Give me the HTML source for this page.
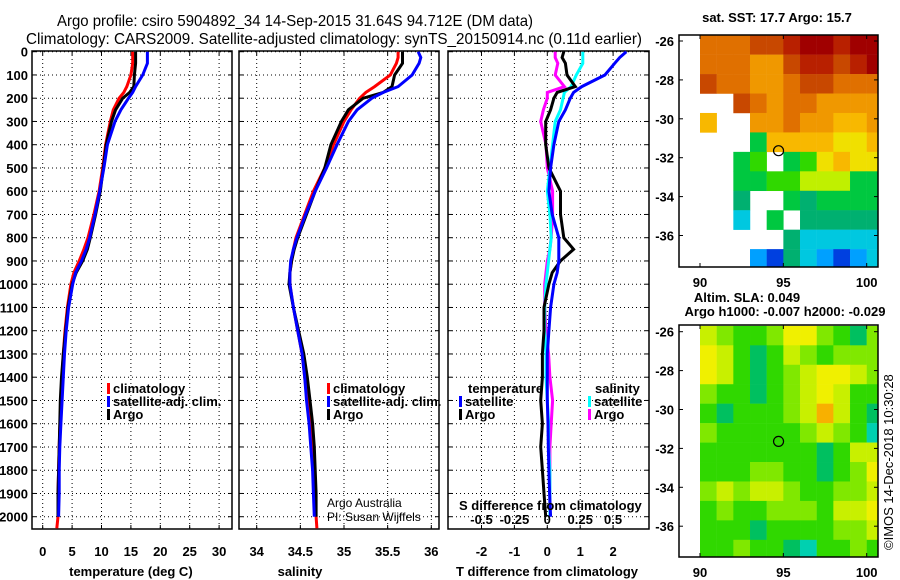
<!DOCTYPE html>
<html><head><meta charset="utf-8"><style>
html,body{margin:0;padding:0;background:#fff;}
svg{display:block;font-family:"Liberation Sans",sans-serif;}
.tk{font-size:13px;font-weight:bold;}
</style></head><body>
<svg id="fig" width="900" height="580" viewBox="0 0 900 580" xmlns="http://www.w3.org/2000/svg">
<text x="57" y="26" font-size="16" textLength="476" lengthAdjust="spacingAndGlyphs">Argo profile: csiro 5904892_34 14-Sep-2015 31.64S 94.712E (DM data)</text>
<text x="26" y="44" font-size="16" textLength="616" lengthAdjust="spacingAndGlyphs">Climatology: CARS2009. Satellite-adjusted climatology: synTS_20150914.nc (0.11d earlier)</text>
<g id="plots"></g>
<text x="777" y="22" font-size="13" font-weight="bold" text-anchor="middle">sat. SST: 17.7 Argo: 15.7</text>
<text x="747" y="302" font-size="13" font-weight="bold" text-anchor="middle">Altim. SLA: 0.049</text>
<text x="785" y="316" font-size="13" font-weight="bold" text-anchor="middle">Argo h1000: -0.007 h2000: -0.029</text>
<text transform="translate(893,550) rotate(-90)" font-size="13">©IMOS 14-Dec-2018 10:30:28</text>
</svg>
<script>
// ---- profile data ----
const depths=[0,25,50,100,150,175,200,250,300,400,500,600,700,800,850,900,950,1000,1100,1200,1300,1400,1500,1600,1700,1800,1900,2000,2050];
const tempClim=[15.3,15.3,15.3,15.0,14.3,13.8,13.0,12.0,11.5,10.7,10.2,9.6,8.7,7.7,7.0,6.2,5.3,4.8,4.2,3.8,3.5,3.3,3.1,2.95,2.8,2.7,2.6,2.6,2.4];
const tempArgo=[15.8,15.8,15.8,15.6,15.5,14.8,13.6,12.4,11.7,10.8,10.3,9.8,9.0,8.1,7.6,6.8,5.7,5.0,4.3,3.9,3.5,3.2,3.0,2.9,2.8,2.7,2.6,2.6,null];
const tempSat=[17.8,17.8,17.8,17.0,15.8,15.3,14.6,13.3,12.3,11.0,10.4,9.7,8.9,8.0,7.4,6.6,5.6,5.1,4.4,4.0,3.7,3.5,3.3,3.1,2.9,2.8,2.8,2.7,null];
const salClim=[35.62,35.62,35.60,35.53,35.35,35.25,35.18,35.08,35.0,34.88,34.78,34.65,34.55,34.45,34.42,34.40,34.38,34.38,34.42,34.47,34.52,34.55,34.58,34.62,34.64,34.65,34.67,34.68,34.69];
const salArgo=[35.67,35.67,35.67,35.58,35.55,35.45,35.22,35.05,34.97,34.85,34.78,34.67,34.57,34.47,34.43,34.40,34.38,34.37,34.42,34.48,34.54,34.58,34.61,34.64,34.66,34.67,34.68,34.68,null];
const salSat=[35.85,35.88,35.86,35.78,35.62,35.45,35.32,35.15,35.05,34.92,34.80,34.67,34.56,34.46,34.42,34.39,34.38,34.38,34.42,34.47,34.52,34.55,34.57,34.60,34.62,34.64,34.65,34.66,null];
const tDiffSat=[2.4,2.2,2.05,1.75,1.05,0.8,0.7,0.55,0.35,0.2,0.1,0.05,0.15,0.35,0.35,0.35,0.3,0.2,0.1,0.05,0.0,0.0,0.0,0.02,0.03,0.05,0.07,0.1,null];
const tDiffArgo=[0.5,0.45,0.55,0.6,0.85,0.3,0.2,0.1,-0.05,-0.05,0.05,0.4,0.4,0.5,0.8,0.4,0.15,0.05,-0.1,-0.1,-0.15,-0.15,-0.2,-0.15,-0.2,-0.15,-0.1,-0.05,null];
const sDiffSat=[0.27,0.27,0.27,0.22,0.18,0.13,0.12,0.1,0.06,0.04,0.02,0.0,0.02,0.03,0.02,0.01,0.0,-0.01,-0.02,-0.02,-0.01,-0.01,0.0,0.01,0.01,0.02,0.02,0.02,null];
const sDiffArgo=[0.06,0.06,0.08,0.06,0.13,0.0,0.0,-0.03,-0.05,-0.01,0.0,0.04,0.04,0.03,0.02,0.0,-0.01,-0.02,-0.02,-0.01,0.01,0.02,0.04,0.03,0.02,0.02,0.02,0.02,null];
const depthTicks=[0,100,200,300,400,500,600,700,800,900,1000,1100,1200,1300,1400,1500,1600,1700,1800,1900,2000];
const tempTicks=[0,5,10,15,20,25,30];
const salTicks=[34,34.5,35,35.5,36];
const tDiffTicks=[-2,-1,0,1,2];
const sDiffTicks=[-0.5,-0.25,0,0.25,0.5];
// ---- map data (1-degree cells, lon 90..100, rows from -25.7 downward) ----
const mapLons=[90,91,92,93,94,95,96,97,98,99,100];
const sstRows=[
[19.5,19.5,19.5,20,20,20.5,21,21,20.5,21,21],
[19.5,19.5,19.5,19,19,20,20.5,20.5,20,20.5,21],
[20,19.5,19.5,19,19,19.5,20,20,19.5,19.5,19.5],
[null,null,20,19.5,19,19.5,19.5,19,19,19,19],
[18.5,null,null,19,19,19.5,19,19,18.5,18.5,19],
[null,null,null,16.5,18.5,18.5,18.5,18.5,18,18,18.5],
[null,null,16.5,17,null,16.5,17,18,18.5,18,18],
[null,null,16.5,16.5,17,17,17.5,17.5,17.5,16.5,16.5],
[null,null,16,null,null,16.5,16,16.5,16.5,16.5,16.5],
[null,null,15.5,null,16.5,null,16,16,16,16,16],
[null,null,null,null,null,16,15.5,15.5,15.5,15.5,15.5],
[null,null,null,15,14.5,16,15.5,15,14.5,15,15.5]];
const slaRows=[
[4,3,2,2,3,5,5,3,2,1,3],
[5,4,2,1,2,4,3,2,3,3,3],
[5,4,2,1,2,3,4,5,5,4,3],
[3,2,2,1,2,3,4,5,4,2,2],
[2,1,2,2,2,3,4,6,4,2,1],
[3,2,2,2,2,2,3,4,3,2,0],
[2,2,2,2,2,2,2,1,2,4,4],
[2,2,2,3,3,2,2,1,2,3,5],
[3,4,3,4,4,3,2,2,3,3,4],
[2,3,2,2,3,3,3,2,4,4,5],
[2,2,2,1,2,2,2,2,3,3,4],
[2,2,3,2,2,1,0,2,2,3,2]];
const latTicks=[-26,-28,-30,-32,-34,-36];
const lonTicks=[90,95,100];
const argoLon=94.712, argoLat=-31.64;

const NS='http://www.w3.org/2000/svg';
const root=document.getElementById('plots');
function mk(tag,attrs,parent){const e=document.createElementNS(NS,tag);for(const k in attrs)e.setAttribute(k,attrs[k]);(parent||root).appendChild(e);return e;}
function txt(x,y,s,attrs,parent){const e=mk('text',Object.assign({x:x,y:y},attrs||{}),parent);e.textContent=s;return e;}

const Y0=51.7,YTOP=51,YBOT=529,PX_PER_M=465/2000;
const yD=d=>Y0+d*PX_PER_M;
const panels=[
 {x0:32,x1:232,name:'temperature-panel',sx:v=>42.7+v*5.88,ticks:tempTicks,title:'temperature (deg C)',tx:42.7+15*5.88},
 {x0:239,x1:439,name:'salinity-panel',sx:v=>256.7+(v-34)*87.3,ticks:salTicks,title:'salinity',tx:300},
 {x0:448,x1:649,name:'difference-panel',sx:v=>547.3+v*32.9,ticks:tDiffTicks,title:'T difference from climatology',tx:547}
];
const sxS=v=>547.3+v*131.6;

panels.forEach((p,pi)=>{
 const g=mk('g',{});
 
 
 depthTicks.forEach(d=>{const l=mk('line',{x1:p.x0,x2:p.x1,y1:yD(d),y2:yD(d),stroke:'#000','stroke-width':1,'stroke-dasharray':'1,3'},g);
  
  mk('line',{x1:p.x0,x2:p.x0+4,y1:yD(d),y2:yD(d),stroke:'#000'},g);mk('line',{x1:p.x1-4,x2:p.x1,y1:yD(d),y2:yD(d),stroke:'#000'},g);});
 p.ticks.forEach(t=>{const x=p.sx(t);const l=mk('line',{x1:x,x2:x,y1:YTOP,y2:YBOT,stroke:'#000','stroke-width':1,'stroke-dasharray':'1,3'},g);
  
  mk('line',{x1:x,x2:x,y1:YBOT-4,y2:YBOT,stroke:'#000'},g);mk('line',{x1:x,x2:x,y1:YTOP,y2:YTOP+4,stroke:'#000'},g);
  const tl=txt(x,556,String(t),{class:'tk','text-anchor':'middle'},g);
  });
 const fr=mk('rect',{x:p.x0,y:YTOP,width:p.x1-p.x0,height:YBOT-YTOP,fill:'none',stroke:'#000','stroke-width':1.5},g);
 
 const at=txt(p.tx,576,p.title,{class:'tk','text-anchor':'middle'},g);
 
});
depthTicks.forEach(d=>{const t=txt(28,yD(d)+5,String(d),{class:'tk','text-anchor':'end'});
 });

function line(vals,sx,color,name){
 let pts=[];vals.forEach((v,i)=>{if(v!==null&&v!==undefined)pts.push(sx(v).toFixed(1)+','+yD(depths[i]).toFixed(1));});
 const e=mk('polyline',{points:pts.join(' '),fill:'none',stroke:color,'stroke-width':3,'stroke-linejoin':'miter'});
 
 
}
const sxT=panels[0].sx, sxSal=panels[1].sx, sxTd=panels[2].sx;
line(tempClim,sxT,'#ff0000','temperature-climatology-line');
line(tempArgo,sxT,'#000000','temperature-argo-line');
line(tempSat,sxT,'#0000ff','temperature-satellite-line');
line(salClim,sxSal,'#ff0000','salinity-climatology-line');
line(salArgo,sxSal,'#000000','salinity-argo-line');
line(salSat,sxSal,'#0000ff','salinity-satellite-line');
line(sDiffArgo,sxS,'#ff00ff','s-diff-argo-line');
line(sDiffSat,sxS,'#00ffff','s-diff-satellite-line');
line(tDiffArgo,sxTd,'#000000','t-diff-argo-line');
line(tDiffSat,sxTd,'#0000ff','t-diff-satellite-line');

function legend(x,y,color,label,name){
 const g=mk('g',{});
 
 
 mk('rect',{x:x,y:y-10,width:3,height:11,fill:color},g);
 txt(x+6,y,label,{class:'tk'},g);
}
legend(107,393,'#ff0000','climatology','legend-climatology');
legend(107,406,'#0000ff','satellite-adj. clim.','legend-satellite-adj');
legend(107,419,'#000000','Argo','legend-argo');
legend(327,393,'#ff0000','climatology','legend-climatology-sal');
legend(327,406,'#0000ff','satellite-adj. clim.','legend-satellite-adj-sal');
legend(327,419,'#000000','Argo','legend-argo-sal');
{const t=txt(468,393,'temperature',{class:'tk'});}
legend(459,406,'#0000ff','satellite','legend-t-satellite');
legend(459,419,'#000000','Argo','legend-t-argo');
{const t=txt(595,393,'salinity',{class:'tk'});}
legend(588,406,'#00ffff','satellite','legend-s-satellite');
legend(588,419,'#ff00ff','Argo','legend-s-argo');
{const t=txt(327,507,'Argo Australia',{'font-size':12});
 const t2=txt(327,521,'PI: Susan Wijffels',{'font-size':12});}
{const t=txt(459,510,'S difference from climatology',{class:'tk'});}
sDiffTicks.forEach(s=>{const t=txt(sxS(s),524,String(s),{class:'tk','text-anchor':'middle'});
 });

// ---- maps ----
function sstColor(v){
 const stops=[[14,'#0000a0'],[14.5,'#0040e0'],[15,'#00a0ff'],[15.5,'#00c8e0'],[16,'#00b070'],[16.5,'#00c840'],[17,'#30d800'],[17.5,'#c0f000'],[18,'#f0e000'],[18.5,'#f8b800'],[19,'#f09800'],[19.5,'#e07000'],[20,'#c84800'],[20.5,'#b82000'],[21,'#a00000']];
 let best=stops[0];for(const s of stops)if(Math.abs(s[0]-v)<Math.abs(best[0]-v))best=s;return best[1];
}
const slaColors=['#00d0b0','#00c060','#30d800','#80e800','#c8f000','#f0f000','#f8b000'];
function drawMap(rows,colorFn,box,name){
 const g=mk('g',{});
 
 
 const lonX=lon=>box.x90+(lon-90)*16.67;
 const latY=lat=>box.y26+(-26-lat)*19.45;
 const clip='clip-'+name;
 const cp=mk('clipPath',{id:clip},g);mk('rect',{x:box.x0,y:box.y0,width:box.x1-box.x0,height:box.y1-box.y0},cp);
 const cells=mk('g',{'clip-path':'url(#'+clip+')'},g);
 rows.forEach((row,ri)=>{
  row.forEach((v,ci)=>{
   if(v===null)return;
   const latTop=-25.7-ri, lon=mapLons[ci];
   const c=mk('rect',{x:lonX(lon),y:latY(latTop),width:16.9,height:19.7,fill:colorFn(v)},cells);
   
   
  });
 });
 mk('rect',{x:box.x0,y:box.y0,width:box.x1-box.x0,height:box.y1-box.y0,fill:'none',stroke:'#000','stroke-width':1.5},g);
 latTicks.forEach(l=>{const y=latY(l);mk('line',{x1:box.x0,x2:box.x0+4,y1:y,y2:y,stroke:'#000'},g);mk('line',{x1:box.x1-4,x2:box.x1,y1:y,y2:y,stroke:'#000'},g);
  const t=txt(box.x0-5,y+5,String(l),{class:'tk','text-anchor':'end'},g);});
 lonTicks.forEach(l=>{const x=lonX(l);mk('line',{x1:x,x2:x,y1:box.y1-4,y2:box.y1,stroke:'#000'},g);mk('line',{x1:x,x2:x,y1:box.y0,y2:box.y0+4,stroke:'#000'},g);
  const t=txt(x,box.y1+20,String(l),{class:'tk','text-anchor':'middle'},g);});
 const m=mk('circle',{cx:lonX(argoLon),cy:latY(argoLat),r:5,fill:'none',stroke:'#000','stroke-width':1.2},g);
 
 
}
drawMap(sstRows,sstColor,{x0:679,x1:878,y0:35,y1:267,x90:700,y26:41},'sst-map');
drawMap(slaRows,v=>slaColors[v],{x0:679,x1:878,y0:325,y1:557,x90:700,y26:331.7},'sla-map');
</script>
</body></html>
